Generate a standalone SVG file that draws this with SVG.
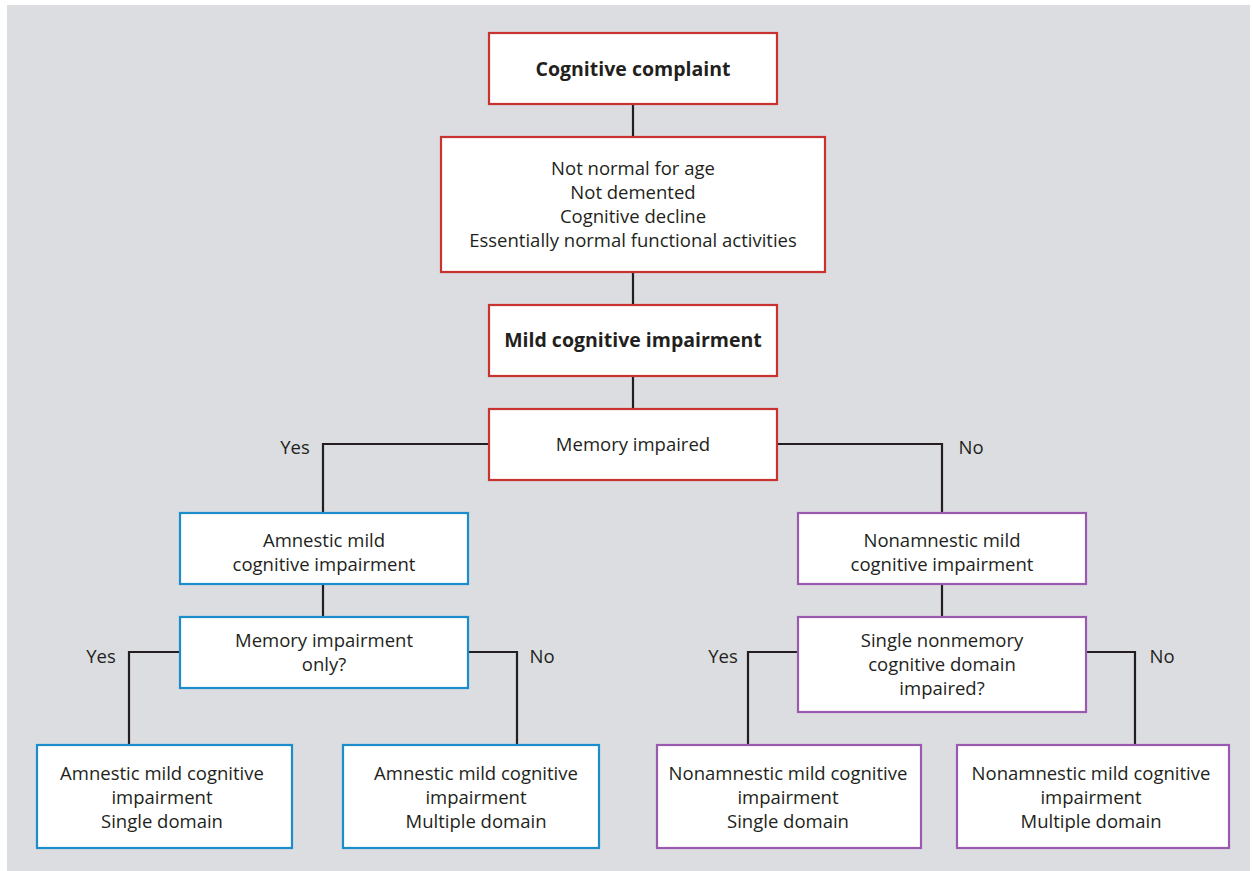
<svg xmlns="http://www.w3.org/2000/svg" width="1253" height="871" viewBox="0 0 1253 871">
<style>
text{font-family:"Open Sans","Noto Sans",sans-serif;font-size:18.5px;fill:#231f20;text-anchor:middle}
.b{font-weight:bold;font-size:19.5px}
.box{fill:#fff;stroke-width:2.2}
.red{stroke:#c8322f}
.blue{stroke:#1b8dcd}
.pur{stroke:#9a5ab0}
.c{fill:none;stroke:#231f20;stroke-width:2.2}
</style>
<rect x="0" y="0" width="1253" height="871" fill="#fff"/>
<rect x="7" y="5" width="1243" height="866" fill="#dcdde0"/>
<g id="connectors">
<path class="c" d="M633 104V136M633 272V304M633 376V408"/>
<path class="c" d="M489 444H323V513M777 444H942V513"/>
<path class="c" d="M323 584V616M942 584V616"/>
<path class="c" d="M180 652H129V744M468 652H517V744"/>
<path class="c" d="M798 652H748V744M1086 652H1135V744"/>
<text x="295" y="454">Yes</text>
<text x="971" y="454">No</text>
<text x="101" y="663">Yes</text>
<text x="542" y="663">No</text>
<text x="723" y="663">Yes</text>
<text x="1162" y="663">No</text>
</g>
<g id="n1"><rect class="box red" x="489" y="33" width="288" height="71"/><text class="b" x="633" y="76">Cognitive complaint</text></g>
<g id="n2"><rect class="box red" x="441" y="137" width="384" height="135"/>
<text x="633" y="175">Not normal for age</text><text x="633" y="199">Not demented</text><text x="633" y="223">Cognitive decline</text><text x="633" y="247">Essentially normal functional activities</text></g>
<g id="n3"><rect class="box red" x="489" y="305" width="288" height="71"/><text class="b" x="633" y="347">Mild cognitive impairment</text></g>
<g id="n4"><rect class="box red" x="489" y="409" width="288" height="71"/><text x="633" y="451">Memory impaired</text></g>
<g id="n5"><rect class="box blue" x="180" y="513" width="288" height="71"/><text x="324" y="547">Amnestic mild</text><text x="324" y="571">cognitive impairment</text></g>
<g id="n6"><rect class="box blue" x="180" y="617" width="288" height="71"/><text x="324" y="647">Memory impairment</text><text x="324" y="671">only?</text></g>
<g id="n7"><rect class="box pur" x="798" y="513" width="288" height="71"/><text x="942" y="547">Nonamnestic mild</text><text x="942" y="571">cognitive impairment</text></g>
<g id="n8"><rect class="box pur" x="798" y="617" width="288" height="95"/><text x="942" y="647">Single nonmemory</text><text x="942" y="671">cognitive domain</text><text x="942" y="695">impaired?</text></g>
<g id="n9"><rect class="box blue" x="37" y="745" width="255" height="103"/><text x="162" y="780">Amnestic mild cognitive</text><text x="162" y="804">impairment</text><text x="162" y="828">Single domain</text></g>
<g id="n10"><rect class="box blue" x="343" y="745" width="256" height="103"/><text x="476" y="780">Amnestic mild cognitive</text><text x="476" y="804">impairment</text><text x="476" y="828">Multiple domain</text></g>
<g id="n11"><rect class="box pur" x="657" y="745" width="264" height="103"/><text x="788" y="780">Nonamnestic mild cognitive</text><text x="788" y="804">impairment</text><text x="788" y="828">Single domain</text></g>
<g id="n12"><rect class="box pur" x="957" y="745" width="272" height="103"/><text x="1091" y="780">Nonamnestic mild cognitive</text><text x="1091" y="804">impairment</text><text x="1091" y="828">Multiple domain</text></g>
</svg>
